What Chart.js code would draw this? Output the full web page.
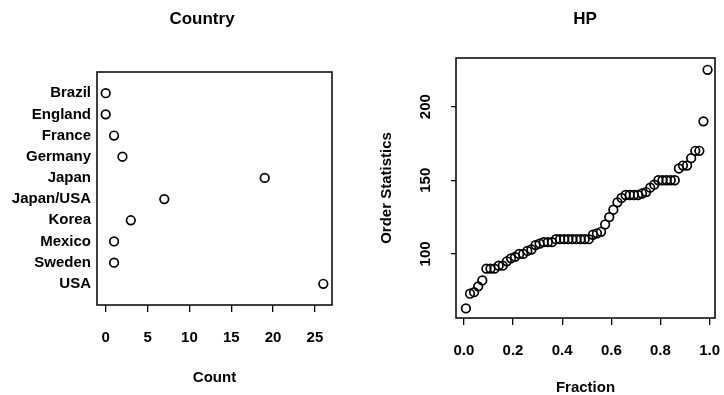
<!DOCTYPE html>
<html>
<head>
<meta charset="utf-8">
<script src="https://cdn.jsdelivr.net/npm/chart.js@4.4.1/dist/chart.umd.min.js"></script>
<style>
  html, body { margin: 0; padding: 0; background: #fff; }
  #wrap { position: relative; width: 724px; height: 395px; }
  canvas { position: absolute; top: 0; }
  #countryChart { left: 0; }
  #hpChart { left: 362px; }
</style>
</head>
<body>
<div id="wrap">
  <canvas id="countryChart" width="362" height="395"></canvas>
  <canvas id="hpChart" width="362" height="395"></canvas>
</div>
<script>
// Car data: counts by country (dot chart) and sorted HP (quantile plot)
var countries = ['Brazil', 'England', 'France', 'Germany', 'Japan', 'Japan/USA', 'Korea', 'Mexico', 'Sweden', 'USA'];
var countryCounts = [0, 0, 1, 2, 19, 7, 3, 1, 1, 26];
var countTicks = [0, 5, 10, 15, 20, 25];

var hpSorted = [63, 73, 74, 78, 82, 90, 90, 90, 92, 92, 95, 97, 98, 100, 100, 102, 103, 106, 107,
  108, 108, 108, 110, 110, 110, 110, 110, 110, 110, 110, 110, 113, 114, 115, 120, 125, 130, 135, 138,
  140, 140, 140, 140, 141, 142, 145, 147, 150, 150, 150, 150, 150, 158, 160, 160, 165, 170, 170, 190, 225];
var fractionTicks = [0, 0.2, 0.4, 0.6, 0.8, 1.0];
var hpTicks = [100, 150, 200];

var FONT = '"Liberation Sans", Arial, Helvetica, sans-serif';
Chart.defaults.font.family = FONT;
Chart.defaults.color = '#000';
Chart.defaults.animation = false;

var boxPlugin = {
  id: 'box',
  afterDraw: function (chart) {
    var a = chart.chartArea, ctx = chart.ctx;
    ctx.save();
    ctx.strokeStyle = '#000';
    ctx.lineWidth = 1.5;
    ctx.strokeRect(a.left, a.top, a.right - a.left, a.bottom - a.top);
    ctx.restore();
  }
};

var panelTitle = {
  id: 'panelTitle',
  afterDraw: function (chart, args, opts) {
    var ctx = chart.ctx;
    ctx.save();
    ctx.font = 'bold 17px ' + FONT;
    ctx.fillStyle = '#000';
    ctx.textAlign = 'center';
    ctx.textBaseline = 'middle';
    ctx.fillText(opts.text, opts.x, opts.y);
    ctx.restore();
  }
};

// keep the plot boxes where the layout padding puts them
function fixX(h) {
  return function (s) { s.height = h; s.paddingLeft = 0; s.paddingRight = 0; };
}
function fixY(w) {
  return function (s) { s.width = w; s.paddingTop = 0; s.paddingBottom = 0; };
}

var pointStyle = {
  pointStyle: 'circle',
  pointRadius: 4.3,
  pointBorderWidth: 1.7,
  pointBorderColor: '#000',
  pointBackgroundColor: 'rgba(255,255,255,0)',
  showLine: false
};

// Left: dot chart of counts
var dotData = countries.map(function (c, i) { return { x: countryCounts[i], y: i + 1 }; });
new Chart(document.getElementById('countryChart'), {
  type: 'scatter',
  data: { datasets: [Object.assign({ data: dotData }, pointStyle)] },
  options: {
    responsive: false,
    layout: { padding: { top: 72, right: 30, left: 0, bottom: 0 } },
    plugins: {
      legend: { display: false },
      tooltip: { enabled: false },
      panelTitle: { text: 'Country', x: 202, y: 19 }
    },
    scales: {
      x: {
        type: 'linear', min: -1.04, max: 27.04,
        afterBuildTicks: function (s) { s.ticks = countTicks.map(function (v) { return { value: v }; }); },
        afterFit: fixX(90),
        grid: { display: true, drawOnChartArea: false, drawTicks: true, tickLength: 7, color: '#000', lineWidth: 1.3 },
        border: { display: false },
        ticks: { font: { size: 15, weight: 'bold' }, padding: 17, maxRotation: 0 },
        title: { display: true, text: 'Count', font: { size: 15, weight: 'bold', lineHeight: 1 }, padding: { bottom: 10 } }
      },
      y: {
        type: 'linear', min: 0, max: 11, reverse: true,
        afterBuildTicks: function (s) { s.ticks = countries.map(function (c, i) { return { value: i + 1 }; }); },
        afterFit: fixY(97),
        grid: { display: false, drawTicks: false },
        border: { display: false },
        ticks: {
          font: { size: 15, weight: 'bold' }, padding: 6,
          callback: function (v) { return countries[v - 1]; }
        }
      }
    }
  },
  plugins: [boxPlugin, panelTitle]
});

// Right: quantile plot of HP, fraction = (i - 0.5) / n
var n = hpSorted.length;
var qData = hpSorted.map(function (h, i) { return { x: (i + 0.5) / n, y: h }; });
new Chart(document.getElementById('hpChart'), {
  type: 'scatter',
  data: { datasets: [Object.assign({ data: qData }, pointStyle)] },
  options: {
    responsive: false,
    layout: { padding: { top: 58, right: 9, left: 0, bottom: 0 } },
    plugins: {
      legend: { display: false },
      tooltip: { enabled: false },
      panelTitle: { text: 'HP', x: 223, y: 19 }
    },
    scales: {
      x: {
        type: 'linear', min: -0.032, max: 1.022,
        afterBuildTicks: function (s) { s.ticks = fractionTicks.map(function (v) { return { value: v }; }); },
        afterFit: fixX(77),
        grid: { display: true, drawOnChartArea: false, drawTicks: true, tickLength: 7, color: '#000', lineWidth: 1.3 },
        border: { display: false },
        ticks: { font: { size: 15, weight: 'bold' }, padding: 17, maxRotation: 0,
          callback: function (v) { return v.toFixed(1); } },
        title: { display: true, text: 'Fraction', font: { size: 15, weight: 'bold', lineHeight: 1 }, padding: { bottom: 0 } }
      },
      y: {
        type: 'linear', min: 56.5, max: 233,
        afterBuildTicks: function (s) { s.ticks = hpTicks.map(function (v) { return { value: v }; }); },
        afterFit: fixY(94),
        grid: { display: true, drawOnChartArea: false, drawTicks: true, tickLength: 5, color: '#000', lineWidth: 1.3 },
        border: { display: false },
        ticks: { font: { size: 15, weight: 'bold' }, padding: 13, minRotation: 90, maxRotation: 90, crossAlign: 'center' },
        title: { display: true, text: 'Order Statistics', font: { size: 15, weight: 'bold', lineHeight: 1 }, padding: { top: 17 } }
      }
    }
  },
  plugins: [boxPlugin, panelTitle]
});
</script>
</body>
</html>
